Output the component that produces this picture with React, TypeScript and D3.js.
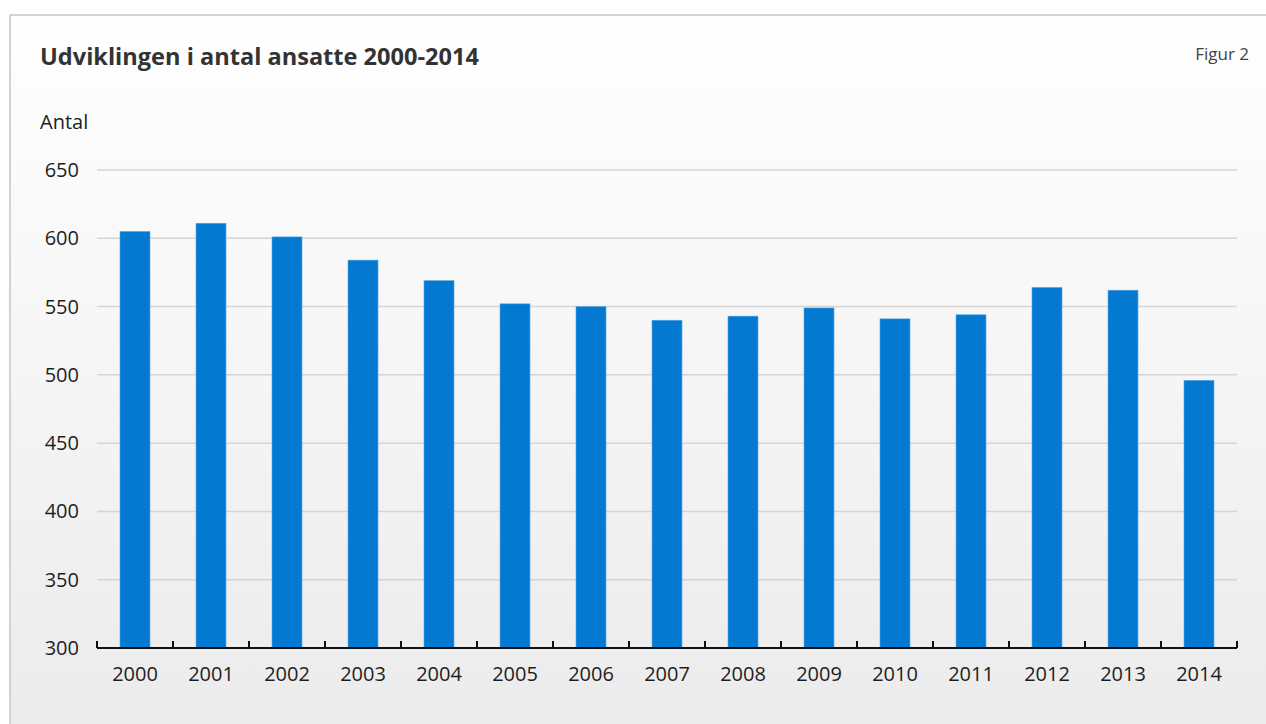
import React from "react";
import * as d3 from "d3";

const years = ["2000","2001","2002","2003","2004","2005","2006","2007","2008","2009","2010","2011","2012","2013","2014"];
const employees = [605, 611, 601, 584, 569, 552, 550, 540, 543, 549, 541, 544, 564, 562, 496];
const yTicks = [300, 350, 400, 450, 500, 550, 600, 650];

const W = 1266, H = 724;
const left = 97, right = 1237, top = 170, bottom = 648;
const FONT = "'Open Sans', 'Noto Sans', sans-serif";

export default function App() {
  const x = d3.scaleBand<string>().domain(years).range([left, right]).paddingInner(0).paddingOuter(0);
  const y = d3.scaleLinear().domain([300, 650]).range([bottom, top]);
  const barW = 30;
  return (
    <svg width={W} height={H} style={{ position: "absolute", left: 0, top: 0 }} fontFamily={FONT}>
      <defs>
        <linearGradient id="bg" x1="0" y1="0" x2="0" y2="1">
          <stop offset="0" stopColor="#ffffff" />
          <stop offset="1" stopColor="#ebebeb" />
        </linearGradient>
      </defs>
      <rect x={0} y={0} width={W} height={H} fill="#ffffff" />
      <rect x={10} y={15} width={W} height={H} fill="url(#bg)" />
      <line x1={10} y1={15} x2={W} y2={15} stroke="#c4c4c4" strokeWidth={1.5} />
      <line x1={10} y1={15} x2={10} y2={H} stroke="#c4c4c4" strokeWidth={1.5} />
      <text x={40} y={65} fontSize={23} fontWeight={700} fill="#333" textLength={439} lengthAdjust="spacingAndGlyphs">Udviklingen i antal ansatte 2000-2014</text>
      <text x={1249} y={60} fontSize={17} fill="#444" textAnchor="end">Figur 2</text>
      <text x={40} y={129} fontSize={20} fill="#1e1e1e">Antal</text>
      {yTicks.map((t) => (
        <g key={t}>
          {t !== 300 && (
            <line x1={left} x2={right} y1={y(t)} y2={y(t)} stroke="#d5d5d5" strokeWidth={1.5} />
          )}
          <text x={79} y={y(t) + 7} fontSize={20} fill="#1e1e1e" textAnchor="end">{t}</text>
        </g>
      ))}
      {years.map((yr, i) => (
        <rect key={yr} x={(x(yr) as number) + (x.bandwidth() - barW) / 2} y={y(employees[i])} width={barW}
          height={bottom - y(employees[i])} fill="#0379d2" stroke="#5aa8e6" strokeWidth={0.6} />
      ))}
      <line x1={left} x2={right} y1={bottom} y2={bottom} stroke="#111" strokeWidth={2} />
      {[...years, "end"].map((yr, i) => {
        const xx = left + i * x.bandwidth();
        return <line key={"t" + yr} x1={xx} x2={xx} y1={bottom} y2={bottom - 7} stroke="#111" strokeWidth={2} />;
      })}
      {years.map((yr) => (
        <text key={"l" + yr} x={(x(yr) as number) + x.bandwidth() / 2} y={681} fontSize={20} fill="#1e1e1e" textAnchor="middle">{yr}</text>
      ))}
    </svg>
  );
}
